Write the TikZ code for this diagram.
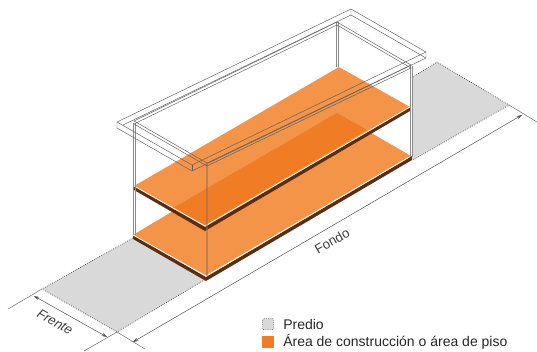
\documentclass[tikz,border=0pt]{standalone}
\usepackage{fontspec}
\setmainfont{Liberation Sans}
\usetikzlibrary{arrows.meta}
\definecolor{lotgray}{RGB}{217,217,217}
\definecolor{floororange}{RGB}{243,148,73}
\definecolor{overlaporange}{RGB}{240,125,38}
\definecolor{slabbrown}{RGB}{92,45,18}
\definecolor{wirecol}{RGB}{95,95,95}
\tikzset{
  lot/.style={fill=lotgray, draw=black!80, densely dotted, line width=.5pt},
  wire/.style={draw=wirecol, line width=.35pt},
  wall/.style={draw=black!45, line width=.45pt},
  dimline/.style={draw=black!60, line width=.35pt},
  dimarrow/.style={draw=black!70, line width=.35pt, {Stealth[length=4pt,width=2.5pt]}-{Stealth[length=4pt,width=2.5pt]}},
  dimtext/.style={font=\fontsize{10}{12}\selectfont, text=black!75, inner sep=0pt},
  legendtext/.style={font=\fontsize{10.5}{12}\selectfont, text=black!85, anchor=west, inner sep=0pt}
}
\begin{document}
\begin{tikzpicture}[x=.75pt, y=-.75pt]
\useasboundingbox (0,0) rectangle (537,351);
% lot
\path[lot] (133,238) -- (42,289) -- (117,332) -- (206,279);
\path[lot] (413,77) -- (437,62) -- (509,105) -- (413,160);
% lower floor
\fill[slabbrown] (133,235) -- (206,277) -- (412,156) -- (412,160) -- (206,281) -- (133,239) -- cycle;
\fill[floororange] (133,235) -- (337,113) -- (411,156) -- (206,276) -- cycle;
\draw[white, line width=.6pt] (133,235) -- (206,276) -- (411,156);
% upper floor
\fill[slabbrown] (134,186) -- (205,227) -- (410,107) -- (410,111) -- (205,231) -- (134,190) -- cycle;
\fill[floororange] (134,186) -- (339,67) -- (410,107) -- (205,226) -- cycle;
\fill[overlaporange] (173,208) -- (337,113) -- (367,130) -- (205,225) -- cycle;
\draw[white, line width=.6pt] (134,186) -- (205,226) -- (410,107);
% walls
\draw[wall] (133,123) -- (133,235) (135,123) -- (135,235);
\draw[wall] (336,22) -- (336,67) (338,22) -- (338,67);
\draw[wall] (410,66) -- (410,157) (412,66) -- (412,157);
\draw[draw=slabbrown!70, opacity=.5, line width=.8pt] (207,164) -- (207,276);
% wall tops
\draw[wire] (134,121) -- (337,22) -- (411,65) -- (207,163) -- cycle;
\draw[wire] (134,124) -- (337,25) -- (411,68) -- (207,166) -- cycle;
% roof slab
\draw[wire] (117,122) -- (351,9) -- (426,52) -- (192,165) -- cycle;
\draw[wire] (117,122) -- (117,128) -- (192,171) -- (426,58) -- (426,52);
\draw[wire] (192,165) -- (192,171);
\draw[wire] (351,9) -- (351,15) -- (426,58);
\draw[wire] (123,125) -- (351,15);
% dimensions
\coordinate (frenteL) at (42,289);
\coordinate (frenteR) at (117,332);
\coordinate (fondoT) at (509,105);
\draw[dimline] (frenteL) -- (8,309);
\draw[dimline] (frenteR) -- (84,351);
\draw[dimline] (frenteR) -- (145,349);
\draw[dimline] (fondoT) -- (537,122);
\draw[dimarrow] (34,296) -- (107,337);
\draw[dimarrow] (133,342) -- (522,115);
\node[dimtext, font=\itshape\fontsize{10}{12}\selectfont, rotate=-30] (frente) at (55,322) {Frente};
\node[dimtext, rotate=30] (fondo) at (332,241) {Fondo};
% legend
\node[draw=black!80, densely dotted, fill=lotgray, rounded corners=1pt, minimum size=8.5pt, inner sep=0pt] (predioBox) at (268,324) {};
\node[fill=overlaporange, minimum size=9pt, inner sep=0pt] (areaBox) at (268,342) {};
\node[legendtext] (predio) at (283,324) {Predio};
\node[legendtext] (area) at (283,342) {Área de construcción o área de piso};
\end{tikzpicture}
\end{document}
